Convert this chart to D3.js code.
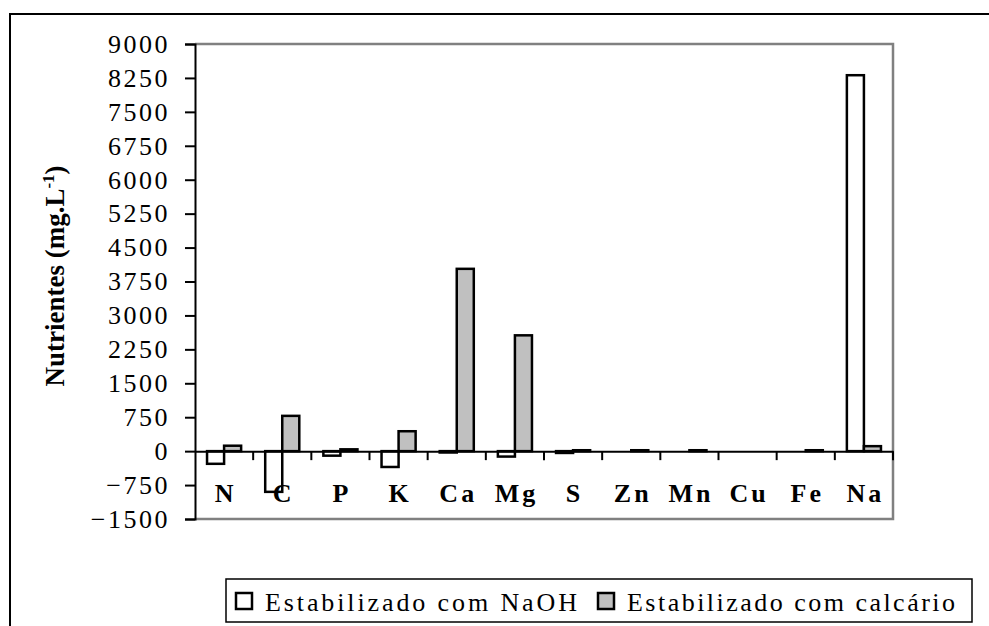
<!DOCTYPE html>
<html>
<head>
<meta charset="utf-8">
<script src="https://cdn.jsdelivr.net/npm/d3@7/dist/d3.min.js"></script>
<style>
  html, body { margin: 0; padding: 0; background: #fff; }
  svg { display: block; font-family: "Liberation Serif", "Times New Roman", serif; }
</style>
</head>
<body>
<svg id="chart" width="989" height="626"></svg>
<script>
// Nutrient concentrations (mg/L) by element, for the two stabilisation treatments
const categories = ["N", "C", "P", "K", "Ca", "Mg", "S", "Zn", "Mn", "Cu", "Fe", "Na"];
const seriesNames = ["Estabilizado com NaOH", "Estabilizado com calcário"];
const naohValues = [-280, -900, -100, -350, -30, -120, -40, 0, 0, 0, 0, 8310];
const calcarioValues = [120, 780, 40, 440, 4030, 2560, 20, 20, 20, 0, 20, 110];
const yTicks = [-1500, -750, 0, 750, 1500, 2250, 3000, 3750, 4500, 5250, 6000, 6750, 7500, 8250, 9000];
const seriesFills = ["#ffffff", "#c0c0c0"];

const svg = d3.select("#chart");
const plot = { left: 195, right: 893, top: 44, bottom: 519 };
const serif = "Liberation Serif";

// outer frame (runs off the right and bottom edges)
svg.append("rect")
  .attr("x", 10).attr("y", 14).attr("width", 1000).attr("height", 640)
  .attr("fill", "none").attr("stroke", "#000").attr("stroke-width", 2);

const y = d3.scaleLinear().domain([-1500, 9000]).range([plot.bottom, plot.top]);
const x = d3.scaleBand().domain(categories).range([plot.left, plot.right])
  .paddingInner(0.414).paddingOuter(0.207);
const xs = d3.scaleBand().domain([0, 1]).range([0, x.bandwidth()]);

// plot-area border (grey top, right, bottom)
svg.append("path")
  .attr("d", `M${plot.left},${plot.top}H${plot.right}V${plot.bottom}H${plot.left}`)
  .attr("fill", "none").attr("stroke", "#808080").attr("stroke-width", 2.5);

// bars
const rows = categories.map((c, i) => ({ cat: c, vals: [naohValues[i], calcarioValues[i]] }));
const g = svg.append("g");
rows.forEach(r => {
  r.vals.forEach((v, s) => {
    const y0 = y(Math.max(0, v)), y1 = y(Math.min(0, v));
    g.append("rect")
      .attr("x", x(r.cat) + xs(s))
      .attr("y", y0)
      .attr("width", xs.bandwidth())
      .attr("height", Math.max(0, y1 - y0))
      .attr("fill", seriesFills[s])
      .attr("stroke", "#000").attr("stroke-width", 2.5);
  });
});

// y axis
const yAxis = d3.axisLeft(y).tickValues(yTicks).tickSize(10).tickPadding(15)
  .tickFormat(d3.format("d"));
const ya = svg.append("g").attr("transform", `translate(${plot.left},0)`).call(yAxis);
ya.attr("font-family", serif);
ya.select(".domain").attr("stroke", "#000").attr("stroke-width", 2);
ya.selectAll(".tick line").attr("stroke", "#000").attr("stroke-width", 2);
ya.selectAll(".tick text")
  .attr("font-family", serif).attr("font-size", 26)
  .attr("letter-spacing", 2.5).attr("fill", "#000");

// zero line with category tick marks below it
const xAxis = d3.axisBottom(x).tickSize(0).tickFormat("");
const xa = svg.append("g").attr("transform", `translate(0,${y(0)})`).call(xAxis);
xa.select(".domain").attr("stroke", "#000").attr("stroke-width", 2);
const step = x.step();
const bounds = d3.range(1, categories.length + 1).map(i => plot.left + i * step);
xa.selectAll(".sep").data(bounds).enter().append("line")
  .attr("x1", d => d).attr("x2", d => d).attr("y1", 0).attr("y2", 9)
  .attr("stroke", "#000").attr("stroke-width", 2);

// category labels
svg.append("g").selectAll("text").data(categories).enter().append("text")
  .attr("x", d => x(d) + x.bandwidth() / 2 + 1.5)
  .attr("y", 502)
  .attr("text-anchor", "middle")
  .attr("font-family", serif)
  .attr("font-weight", "bold").attr("font-size", 26).attr("letter-spacing", 3)
  .text(d => d);

// y axis title
const yt = svg.append("text")
  .attr("transform", "translate(64,276) rotate(-90)")
  .attr("text-anchor", "middle")
  .attr("font-family", serif)
  .attr("font-weight", "bold").attr("font-size", 27);
yt.append("tspan").text("Nutrientes (mg.L");
yt.append("tspan").attr("font-size", 17).attr("dy", -10).text("-1");
yt.append("tspan").attr("dy", 10).text(")");

// legend
const lg = svg.append("g");
lg.append("rect").attr("x", 226).attr("y", 579).attr("width", 746).attr("height", 43)
  .attr("fill", "#fff").attr("stroke", "#000").attr("stroke-width", 1.5);
const legendItems = [
  { name: seriesNames[0], sx: 236, tx: 265, w: 312 },
  { name: seriesNames[1], sx: 598, tx: 627, w: 328 }
];
legendItems.forEach((it, i) => {
  lg.append("rect").attr("x", it.sx).attr("y", 593).attr("width", 16).attr("height", 16)
    .attr("fill", seriesFills[i]).attr("stroke", "#000").attr("stroke-width", 2.5);
  lg.append("text").attr("x", it.tx).attr("y", 611)
    .attr("font-family", serif).attr("font-size", 26)
    .attr("textLength", it.w).attr("lengthAdjust", "spacing")
    .text(it.name);
});
</script>
</body>
</html>
